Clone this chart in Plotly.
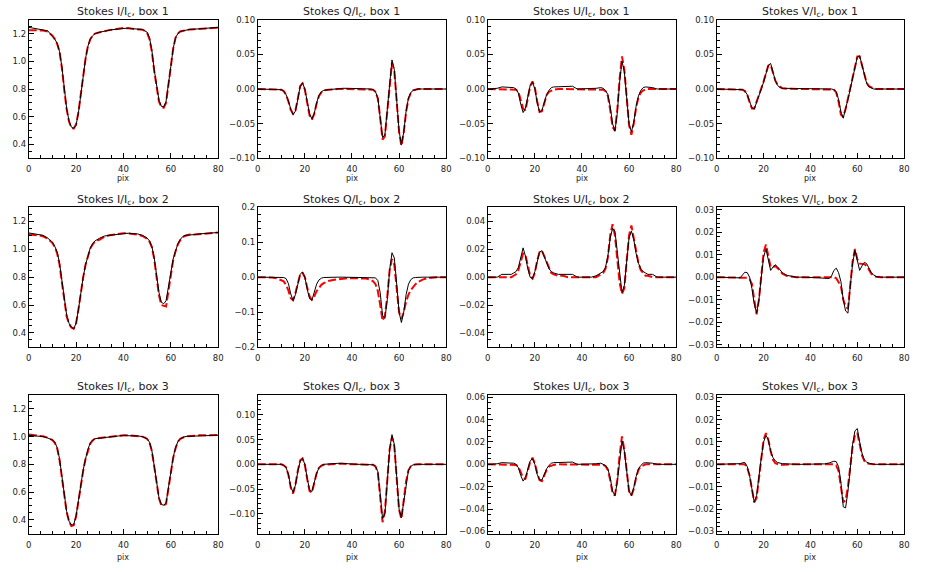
import plotly.graph_objects as go
from plotly.subplots import make_subplots

# pixel positions along the slit (shared by every profile)
PIX = [0, 2, 4, 6, 8, 10,
       11, 12, 13, 14, 15, 16, 17, 18, 19, 20, 21, 22, 23, 24, 25, 26, 27, 28,
       30, 32, 34, 36, 38, 40, 42, 44, 46, 48,
       49, 50, 51, 52, 53, 54, 55, 56, 57, 58, 59, 60, 61, 62, 63, 64, 65, 66, 67, 68,
       70, 72, 74, 76, 78, 80]

# ---- box 1 : observed (black) and fitted (red)
I1_OBS = [1.245, 1.24, 1.235, 1.23, 1.22, 1.18,
          1.16, 1.13, 1.07, 0.96, 0.80, 0.66, 0.57, 0.525, 0.515, 0.54, 0.63, 0.77, 0.91, 1.02, 1.11, 1.16, 1.185, 1.20,
          1.21, 1.22, 1.225, 1.23, 1.235, 1.24, 1.24, 1.235, 1.235, 1.23,
          1.22, 1.21, 1.17, 1.08, 0.94, 0.81, 0.72, 0.675, 0.67, 0.71, 0.82, 0.96, 1.09, 1.17, 1.20, 1.215, 1.22, 1.225, 1.228, 1.23,
          1.232, 1.235, 1.238, 1.24, 1.242, 1.245]
I1_FIT = [1.225, 1.225, 1.224, 1.222, 1.215, 1.185,
          1.16, 1.125, 1.07, 0.95, 0.79, 0.655, 0.565, 0.52, 0.515, 0.545, 0.635, 0.775, 0.91, 1.02, 1.11, 1.16, 1.185, 1.20,
          1.21, 1.22, 1.225, 1.23, 1.235, 1.24, 1.238, 1.236, 1.234, 1.228,
          1.22, 1.205, 1.16, 1.07, 0.93, 0.80, 0.71, 0.67, 0.665, 0.70, 0.82, 0.96, 1.09, 1.17, 1.20, 1.215, 1.22, 1.225, 1.228, 1.23,
          1.232, 1.235, 1.237, 1.238, 1.24, 1.243]
Q1_OBS = [0, 0, 0, 0, 0, -0.001,
          -0.003, -0.008, -0.017, -0.029, -0.037, -0.032, -0.015, 0.004, 0.009, 0.000, -0.018, -0.036, -0.043, -0.035, -0.020, -0.009, -0.004, -0.002,
          -0.001, 0.0, 0.001, 0.001, 0.001, 0.001, 0.0, 0.0, 0.0, 0.0,
          -0.001, -0.004, -0.013, -0.040, -0.070, -0.066, -0.030, 0.015, 0.042, 0.028, -0.012, -0.060, -0.081, -0.062, -0.032, -0.013, -0.005, -0.002, -0.001, 0.0,
          0, 0, 0, 0, 0, 0]
Q1_FIT = [0, 0, 0, 0, 0, -0.001,
          -0.003, -0.008, -0.018, -0.030, -0.036, -0.031, -0.014, 0.004, 0.008, -0.001, -0.020, -0.038, -0.044, -0.036, -0.021, -0.010, -0.005, -0.002,
          -0.001, 0, 0, 0, 0, 0, 0, 0, 0, 0,
          -0.001, -0.004, -0.014, -0.042, -0.073, -0.068, -0.033, 0.012, 0.038, 0.026, -0.016, -0.062, -0.082, -0.063, -0.033, -0.014, -0.006, -0.002, -0.001, 0,
          0, 0, 0, 0, 0, 0]
U1_OBS = [0, 0, 0.001, 0.003, 0.003, 0.003,
          0.002, 0.000, -0.006, -0.022, -0.034, -0.028, -0.010, 0.005, 0.010, 0.000, -0.020, -0.033, -0.031, -0.019, -0.008, -0.002, 0.002, 0.003,
          0.003, 0.003, 0.003, 0.004, 0.000, 0.0, 0.0, 0.0, 0.001, 0.002,
          0.001, -0.002, -0.008, -0.025, -0.050, -0.061, -0.035, 0.010, 0.040, 0.025, -0.015, -0.050, -0.062, -0.048, -0.025, -0.010, -0.002, 0.002, 0.003, 0.003,
          0.002, 0, 0, 0, 0, 0]
U1_FIT = [0, 0, 0, 0, 0, 0,
          0, -0.001, -0.004, -0.015, -0.028, -0.031, -0.015, 0.004, 0.011, 0.002, -0.018, -0.033, -0.032, -0.020, -0.009, -0.004, -0.002, -0.001,
          0, 0, 0, 0, 0, 0, 0, 0, 0, 0,
          -0.001, -0.003, -0.010, -0.030, -0.055, -0.060, -0.030, 0.015, 0.047, 0.028, -0.015, -0.052, -0.066, -0.050, -0.027, -0.012, -0.005, -0.002, -0.001, 0,
          0, 0, 0, 0, 0, 0]
V1_OBS = [0, 0, 0, 0, 0, 0,
          -0.001, -0.003, -0.008, -0.018, -0.027, -0.029, -0.020, -0.010, 0.000, 0.010, 0.022, 0.034, 0.037, 0.025, 0.012, 0.005, 0.002, 0.001,
          0.001, 0, 0, 0, 0, 0, 0, 0, 0, 0,
          0.0, -0.001, -0.004, -0.015, -0.033, -0.042, -0.030, -0.015, 0.000, 0.015, 0.032, 0.046, 0.048, 0.035, 0.018, 0.008, 0.003, 0.001, 0, 0,
          0, 0, 0, 0, 0, 0]
V1_FIT = [0, 0, 0, 0, 0, 0,
          -0.001, -0.003, -0.008, -0.019, -0.028, -0.028, -0.019, -0.009, 0.001, 0.011, 0.023, 0.034, 0.035, 0.024, 0.012, 0.006, 0.003, 0.001,
          0.0005, 0, 0, 0, 0, 0, 0, 0, 0, 0,
          0, -0.001, -0.005, -0.018, -0.037, -0.040, -0.029, -0.014, 0.001, 0.016, 0.033, 0.047, 0.047, 0.034, 0.019, 0.009, 0.004, 0.002, 0.001, 0,
          0, 0, 0, 0, 0, 0]

# ---- box 2
I2_OBS = [1.117, 1.113, 1.108, 1.10, 1.08, 1.05,
          1.02, 0.98, 0.90, 0.77, 0.63, 0.53, 0.47, 0.44, 0.43, 0.47, 0.57, 0.70, 0.80, 0.89, 0.96, 1.01, 1.04, 1.06,
          1.08, 1.095, 1.10, 1.105, 1.11, 1.115, 1.115, 1.112, 1.11, 1.10,
          1.09, 1.08, 1.06, 1.02, 0.94, 0.81, 0.69, 0.62, 0.61, 0.63, 0.72, 0.83, 0.93, 0.99, 1.04, 1.07, 1.09, 1.10, 1.10, 1.105,
          1.105, 1.11, 1.112, 1.115, 1.118, 1.12]
I2_FIT = [1.105, 1.103, 1.10, 1.093, 1.075, 1.045,
          1.015, 0.97, 0.89, 0.76, 0.62, 0.52, 0.465, 0.44, 0.43, 0.47, 0.57, 0.70, 0.80, 0.89, 0.955, 1.005, 1.035, 1.055,
          1.07, 1.09, 1.10, 1.105, 1.11, 1.115, 1.113, 1.11, 1.105, 1.095,
          1.085, 1.075, 1.055, 1.015, 0.93, 0.80, 0.67, 0.60, 0.595, 0.59, 0.70, 0.82, 0.92, 0.985, 1.035, 1.065, 1.085, 1.095, 1.10, 1.105,
          1.105, 1.108, 1.11, 1.113, 1.116, 1.12]
Q2_OBS = [0, 0, 0, 0, 0, 0,
          -0.001, -0.004, -0.018, -0.048, -0.067, -0.050, -0.018, 0.008, 0.015, 0.000, -0.035, -0.062, -0.066, -0.045, -0.020, -0.008, -0.003, -0.001,
          0, 0, 0, 0, 0, 0, 0, 0, 0, 0,
          0.0, -0.002, -0.010, -0.045, -0.110, -0.118, -0.065, 0.020, 0.070, 0.055, -0.020, -0.100, -0.130, -0.100, -0.050, -0.020, -0.007, -0.002, -0.001, 0,
          0, 0, 0, 0, 0, 0]
Q2_FIT = [0, 0, 0, -0.001, -0.003, -0.008,
          -0.012, -0.022, -0.038, -0.060, -0.066, -0.045, -0.015, 0.008, 0.012, 0.000, -0.030, -0.055, -0.065, -0.055, -0.040, -0.030, -0.022, -0.017,
          -0.011, -0.008, -0.006, -0.004, -0.003, -0.003, -0.003, -0.003, -0.004, -0.008,
          -0.012, -0.020, -0.040, -0.080, -0.125, -0.110, -0.055, 0.020, 0.052, 0.035, -0.030, -0.100, -0.120, -0.100, -0.070, -0.050, -0.037, -0.027, -0.020, -0.014,
          -0.007, -0.003, -0.001, 0, 0, 0]
U2_OBS = [0, 0, 0.0, 0.002, 0.002, 0.002,
          0.003, 0.004, 0.007, 0.014, 0.021, 0.015, 0.006, 0.000, -0.001, 0.004, 0.012, 0.018, 0.019, 0.015, 0.010, 0.006, 0.004, 0.003,
          0.002, 0.002, 0.002, 0.002, 0.0, 0, 0, 0, 0.001, 0.003,
          0.004, 0.007, 0.015, 0.028, 0.035, 0.033, 0.018, 0.000, -0.011, -0.006, 0.012, 0.028, 0.033, 0.027, 0.017, 0.010, 0.006, 0.004, 0.003, 0.002,
          0.002, 0, 0, 0, 0, 0]
U2_FIT = [0, 0, 0, 0, 0, 0.0,
          0.001, 0.002, 0.005, 0.011, 0.017, 0.016, 0.008, 0.001, -0.001, 0.003, 0.012, 0.018, 0.019, 0.015, 0.010, 0.006, 0.003, 0.002,
          0.001, 0.001, 0, 0, 0, 0, 0, 0, 0.0, 0.002,
          0.003, 0.006, 0.014, 0.030, 0.038, 0.030, 0.012, -0.004, -0.012, -0.008, 0.012, 0.030, 0.037, 0.028, 0.018, 0.010, 0.005, 0.003, 0.001, 0.001,
          0, 0, 0, 0, 0, 0]
V2_OBS = [0, 0, 0, 0, 0, -0.0003,
          0.001, 0.0022, 0.002, 0.0, -0.005, -0.012, -0.016, -0.010, 0.000, 0.009, 0.0125, 0.007, 0.003, 0.0045, 0.0055, 0.0045, 0.003, 0.002,
          0.0008, 0.0003, 0, 0, 0, 0, 0, -0.0003, -0.0005, -0.0006,
          0.0005, 0.003, 0.004, 0.002, -0.002, -0.010, -0.015, -0.016, -0.004, 0.006, 0.012, 0.008, 0.003, 0.005, 0.0066, 0.006, 0.004, 0.002, 0.001, 0.0003,
          0, 0, 0, 0, 0, 0]
V2_FIT = [0, 0, 0, 0, 0, 0,
          0, 0, -0.0003, -0.001, -0.003, -0.010, -0.0165, -0.010, 0.002, 0.011, 0.0145, 0.009, 0.0045, 0.0045, 0.005, 0.004, 0.0025, 0.0015,
          0.0005, 0.0002, 0, 0, 0, 0, 0, 0, 0, 0,
          0, 0, -0.0005, -0.002, -0.004, -0.010, -0.013, -0.014, -0.002, 0.007, 0.0125, 0.008, 0.006, 0.006, 0.0058, 0.005, 0.003, 0.0015, 0.0005, 0.0002,
          0, 0, 0, 0, 0, 0]

# ---- box 3
I3_OBS = [1.01, 1.008, 1.005, 1.0, 0.99, 0.975,
          0.96, 0.92, 0.84, 0.71, 0.57, 0.46, 0.39, 0.36, 0.365, 0.43, 0.54, 0.66, 0.76, 0.84, 0.91, 0.955, 0.975, 0.985,
          0.99, 0.995, 1.0, 1.003, 1.005, 1.007, 1.008, 1.007, 1.005, 1.0,
          0.995, 0.985, 0.96, 0.90, 0.79, 0.67, 0.56, 0.51, 0.505, 0.52, 0.63, 0.75, 0.85, 0.92, 0.965, 0.985, 0.995, 1.0, 1.002, 1.003,
          1.005, 1.007, 1.008, 1.009, 1.01, 1.01]
I3_FIT = [1.015, 1.012, 1.008, 1.002, 0.992, 0.975,
          0.955, 0.915, 0.83, 0.70, 0.56, 0.455, 0.39, 0.355, 0.36, 0.425, 0.535, 0.655, 0.755, 0.84, 0.905, 0.95, 0.972, 0.985,
          0.99, 0.995, 1.0, 1.005, 1.008, 1.01, 1.01, 1.008, 1.005, 1.0,
          0.993, 0.983, 0.958, 0.895, 0.785, 0.665, 0.555, 0.505, 0.503, 0.515, 0.625, 0.745, 0.845, 0.915, 0.962, 0.984, 0.995, 1.0, 1.003, 1.005,
          1.007, 1.009, 1.01, 1.011, 1.012, 1.012]
Q3_OBS = [0, 0, 0.001, 0.001, 0.001, 0.0,
          -0.002, -0.006, -0.020, -0.045, -0.057, -0.042, -0.015, 0.006, 0.012, 0.000, -0.028, -0.052, -0.055, -0.038, -0.018, -0.007, -0.002, 0.0,
          0.001, 0.002, 0.002, 0.002, 0.001, 0, 0, 0, 0, 0,
          -0.001, -0.004, -0.015, -0.060, -0.110, -0.100, -0.040, 0.030, 0.060, 0.040, -0.025, -0.090, -0.108, -0.075, -0.035, -0.012, -0.004, -0.001, 0, 0,
          0, 0, 0, 0, 0, 0]
Q3_FIT = [0, 0, 0, 0, 0, 0,
          -0.002, -0.006, -0.021, -0.047, -0.059, -0.041, -0.013, 0.008, 0.012, -0.001, -0.030, -0.054, -0.057, -0.038, -0.018, -0.007, -0.003, -0.001,
          0, 0.001, 0.001, 0.001, 0, 0, 0, 0, 0, 0,
          -0.001, -0.004, -0.017, -0.066, -0.117, -0.095, -0.035, 0.030, 0.055, 0.036, -0.028, -0.092, -0.110, -0.074, -0.034, -0.012, -0.004, -0.001, 0, 0,
          0, 0, 0, 0, 0, 0]
U3_OBS = [0, 0, 0.0005, 0.0015, 0.0015, 0.0015,
          0.001, 0.0, -0.003, -0.010, -0.015, -0.012, -0.004, 0.003, 0.005, 0.000, -0.009, -0.014, -0.014, -0.009, -0.004, -0.001, 0.001, 0.0015,
          0.0015, 0.0015, 0.0015, 0.002, 0.0, 0, 0, 0, 0.0005, 0.001,
          0.0, -0.001, -0.004, -0.012, -0.024, -0.028, -0.016, 0.005, 0.021, 0.012, -0.008, -0.024, -0.028, -0.021, -0.011, -0.004, -0.001, 0.001, 0.0015, 0.0015,
          0.001, 0, 0, 0, 0, 0]
U3_FIT = [0, 0, 0, 0, 0, 0,
          0, -0.0005, -0.002, -0.007, -0.012, -0.013, -0.006, 0.002, 0.006, 0.001, -0.008, -0.014, -0.015, -0.010, -0.005, -0.002, -0.001, -0.0005,
          0, 0, 0, 0, 0, 0, 0, 0, 0, 0,
          -0.0005, -0.0015, -0.005, -0.014, -0.026, -0.028, -0.014, 0.008, 0.025, 0.013, -0.008, -0.024, -0.028, -0.022, -0.012, -0.005, -0.002, -0.001, 0, 0,
          0, 0, 0, 0, 0, 0]
V3_OBS = [0, 0, 0, 0, 0, 0.0003,
          0.0007, 0.0008, -0.001, -0.005, -0.011, -0.017, -0.014, -0.005, 0.003, 0.010, 0.013, 0.011, 0.006, 0.003, 0.0015, 0.0008, 0.0005, 0.0003,
          0.0002, 0, 0, 0, 0, 0, 0, 0, 0.0002, 0.0006,
          0.001, 0.0014, 0.0012, -0.001, -0.008, -0.019, -0.0195, -0.012, -0.002, 0.009, 0.015, 0.016, 0.010, 0.005, 0.002, 0.001, 0.0005, 0.0002, 0, 0,
          0, 0, 0, 0, 0, 0]
V3_FIT = [0, 0, 0, 0, 0, 0,
          0, 0, -0.0015, -0.005, -0.011, -0.017, -0.015, -0.006, 0.004, 0.011, 0.014, 0.011, 0.006, 0.002, 0.0005, 0, -0.0003, -0.0002,
          0, 0, 0, 0, 0, 0, 0, 0, 0, 0,
          0, 0, -0.0005, -0.003, -0.010, -0.017, -0.016, -0.010, -0.001, 0.008, 0.013, 0.014, 0.009, 0.004, 0.0015, 0.0005, 0.0003, 0, 0, 0,
          0, 0, 0, 0, 0, 0]

X_TICKS = [0, 20, 40, 60, 80]

W, H = 926, 572
# panel edges in window pixels
COL_PX = [(26, 217), (257, 447), (489, 679), (720, 909)]
ROW_PX = [(15, 156), (206, 348), (397, 538)]
PIX_LABEL_GAP = [21, None, 24]   # "pix" under rows 1 and 3 only


def fx(px):
    return px / W


def fy(px):
    return 1 - px / H


# (stokes, obs, fit, y-range, dtick, tickformat, minor dtick)
panels = [
    [("I", I1_OBS, I1_FIT, (0.3, 1.3), 0.2, ".1f", 0.05),
     ("Q", Q1_OBS, Q1_FIT, (-0.1, 0.1), 0.05, ".2f", 0.01),
     ("U", U1_OBS, U1_FIT, (-0.1, 0.1), 0.05, ".2f", 0.01),
     ("V", V1_OBS, V1_FIT, (-0.1, 0.1), 0.05, ".2f", 0.01)],
    [("I", I2_OBS, I2_FIT, (0.3, 1.3), 0.2, ".1f", 0.05),
     ("Q", Q2_OBS, Q2_FIT, (-0.2, 0.2), 0.1, ".1f", 0.02),
     ("U", U2_OBS, U2_FIT, (-0.05, 0.05), 0.02, ".2f", 0.005),
     ("V", V2_OBS, V2_FIT, (-0.031, 0.031), 0.01, ".2f", 0.002)],
    [("I", I3_OBS, I3_FIT, (0.3, 1.3), 0.2, ".1f", 0.05),
     ("Q", Q3_OBS, Q3_FIT, (-0.14, 0.14), 0.05, ".2f", 0.01),
     ("U", U3_OBS, U3_FIT, (-0.062, 0.062), 0.02, ".2f", 0.005),
     ("V", V3_OBS, V3_FIT, (-0.031, 0.031), 0.01, ".2f", 0.002)],
]

FONT = "DejaVu Sans, Liberation Sans, sans-serif"
INK = "#222222"

fig = make_subplots(rows=3, cols=4)

for r, row in enumerate(panels):
    top, bot = ROW_PX[r]
    for c, (stokes, obs, fit, yr, dt, fmt, mdt) in enumerate(row):
        left, right = COL_PX[c]
        fig.add_trace(go.Scatter(x=PIX, y=fit, mode="lines",
                                 line=dict(color="#ff0000", width=2, dash="8px,3px")),
                      row=r + 1, col=c + 1)
        fig.add_trace(go.Scatter(x=PIX, y=obs, mode="lines",
                                 line=dict(color="#000000", width=1)),
                      row=r + 1, col=c + 1)
        fig.update_xaxes(domain=[fx(left), fx(right)], range=[0, 80],
                         tickvals=X_TICKS, ticks="inside", ticklen=5,
                         ticklabelstandoff=3,
                         minor=dict(ticks="inside", ticklen=3, dtick=5, tick0=0),
                         row=r + 1, col=c + 1)
        fig.update_yaxes(domain=[fy(bot), fy(top)], range=list(yr),
                         dtick=dt, tick0=0, tickformat=fmt,
                         ticks="inside", ticklen=5,
                         minor=dict(ticks="inside", ticklen=3, dtick=mdt, tick0=0),
                         row=r + 1, col=c + 1)
        # panel title
        fig.add_annotation(x=fx((left + right) / 2), y=fy(top - 8),
                           xref="paper", yref="paper", showarrow=False,
                           text=f"Stokes {stokes}/I<sub>c</sub>, box {r + 1}",
                           font=dict(size=11, family=FONT, color=INK),
                           xanchor="center", yanchor="middle")
        if PIX_LABEL_GAP[r] is not None:
            fig.add_annotation(x=fx((left + right) / 2), y=fy(bot + PIX_LABEL_GAP[r]),
                               xref="paper", yref="paper", showarrow=False,
                               text="pix",
                               font=dict(size=8, family=FONT, color=INK),
                               xanchor="center", yanchor="middle")

fig.update_xaxes(showline=True, mirror=True, linecolor="black", linewidth=1,
                 showgrid=False, zeroline=False, tickcolor="black",
                 tickfont=dict(size=8.5, family=FONT, color=INK))
fig.update_yaxes(showline=True, mirror=True, linecolor="black", linewidth=1,
                 showgrid=False, zeroline=False, tickcolor="black",
                 tickfont=dict(size=8.5, family=FONT, color=INK))

fig.update_layout(width=W, height=H, margin=dict(l=0, r=0, t=0, b=0),
                  paper_bgcolor="white", plot_bgcolor="white",
                  showlegend=False)

# drop the default 8px page margin so the figure fills the window
fig.write_html("out.html", config={"displayModeBar": False},
               post_script="document.body.style.margin='0';"
                           "document.body.style.overflow='hidden';")
